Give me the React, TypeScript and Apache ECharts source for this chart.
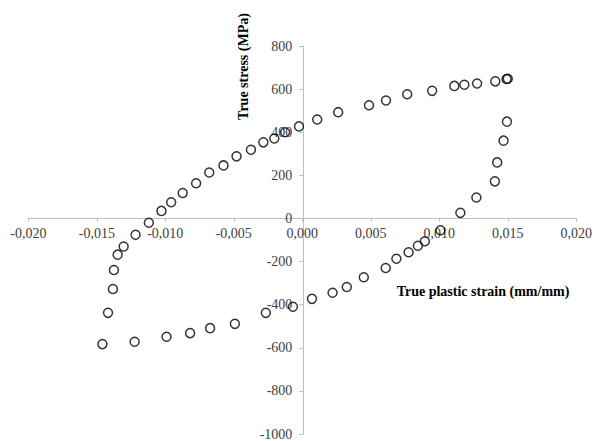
import React, { useEffect, useRef } from "react";
import * as echarts from "echarts";

const strain: number[] = [
  -0.0112, -0.01028, -0.00957, -0.00873, -0.00775, -0.00679, -0.00575, -0.0048, -0.00375, -0.00284,
  -0.00204, -0.00125, -0.00024, 0.00109, 0.00262, 0.00487, 0.00611, 0.00766, 0.00948, 0.0111,
  0.01183, 0.01276, 0.01409, 0.01491, 0.015,
  0.01494, 0.01469, 0.01423, 0.01406, 0.01271, 0.01154, 0.01009, 0.00895, 0.00844, 0.00776,
  0.00687, 0.00609, 0.00449, 0.00325, 0.00221, 0.00071, -0.00068, -0.00266, -0.00492, -0.00673,
  -0.00819, -0.00991, -0.01224, -0.01459, -0.01418, -0.01382, -0.01375, -0.01348, -0.01304, -0.01217,
];
const stress: number[] = [
  -20, 35, 75, 118, 163, 213, 246, 288, 319, 353,
  371, 400, 427, 459, 493, 525, 547, 576, 592, 615,
  620, 626, 636, 647, 648,
  449, 361, 260, 172, 97, 26, -55, -106, -127, -157,
  -187, -230, -273, -318, -345, -373, -410, -438, -489, -509,
  -532, -549, -572, -583, -438, -327, -239, -168, -130, -76,
];

const xTitle = "True plastic strain (mm/mm)";
const yTitle = "True stress (MPa)";
const xMin = -0.02, xMax = 0.02, xStep = 0.005;
const yMin = -1000, yMax = 800, yStep = 200;

const W = 595, H = 441;
const G = { left: 28.3, right: 16.7, top: 46, bottom: 6 };

export default function App() {
  const ref = useRef<HTMLDivElement>(null);
  useEffect(() => {
    document.body.style.margin = "0";
    if (!ref.current) return;
    const chart = echarts.init(ref.current, undefined, { renderer: "svg" });
    const font = "'Liberation Serif', 'Times New Roman', serif";
    const data = strain.map((x, i) => [x, stress[i]]);
    const gw = W - G.left - G.right;
    const gh = H - G.top - G.bottom;
    // place axes through the origin
    const xOffset = -gh * (0 - yMin) / (yMax - yMin);
    const yOffset = -gw * (0 - xMin) / (xMax - xMin);
    chart.setOption({
      animation: false,
      grid: G,
      xAxis: {
        type: "value",
        position: "bottom",
        offset: xOffset,
        min: xMin,
        max: xMax,
        interval: xStep,
        splitLine: { show: false },
        axisLine: { onZero: false, lineStyle: { color: "#bfbfbf", width: 1 } },
        axisTick: { show: true, length: 4, lineStyle: { color: "#bfbfbf" } },
        axisLabel: {
          fontFamily: font,
          fontSize: 14,
          color: "#404040",
          margin: 9,
          formatter: (v: number) => v.toFixed(3).replace(".", ","),
        },
      },
      yAxis: {
        type: "value",
        position: "left",
        offset: yOffset,
        min: yMin,
        max: yMax,
        interval: yStep,
        splitLine: { show: false },
        axisLine: { onZero: false, lineStyle: { color: "#bfbfbf", width: 1 } },
        axisTick: { show: true, length: 4, lineStyle: { color: "#bfbfbf" } },
        axisLabel: {
          fontFamily: font,
          fontSize: 14,
          color: "#404040",
          margin: 11,
          formatter: (v: number) => String(Math.round(v)),
        },
      },
      graphic: [
        {
          type: "text",
          x: 243,
          y: 66.5,
          rotation: Math.PI / 2,
          style: {
            text: yTitle,
            font: `bold 14px ${font}`,
            fill: "#000",
            textAlign: "center",
            textVerticalAlign: "middle",
          },
        },
        {
          type: "text",
          x: 483,
          y: 291,
          style: {
            text: xTitle,
            font: `bold 14px ${font}`,
            fill: "#000",
            textAlign: "center",
            textVerticalAlign: "middle",
          },
        },
      ],
      series: [
        {
          type: "scatter",
          data,
          symbol: "circle",
          symbolSize: 9,
          itemStyle: { color: "rgba(0,0,0,0)", borderColor: "#000", borderWidth: 1.5 },
          z: 5,
        },
      ],
    });
    return () => chart.dispose();
  }, []);
  return <div ref={ref} style={{ width: W, height: H }} />;
}
